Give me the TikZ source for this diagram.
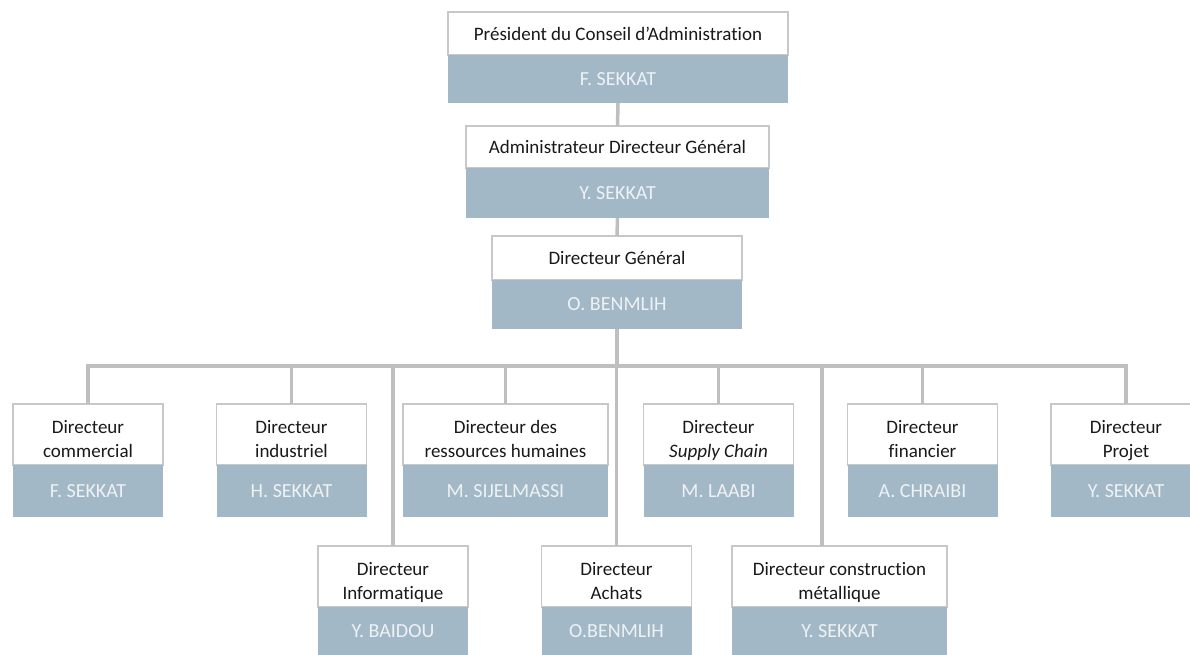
\documentclass[tikz,border=0pt]{standalone}
\usepackage{fontspec}
\setmainfont{Carlito}[Ligatures=NoCommon]

\definecolor{boxline}{HTML}{C8C8C8}
\definecolor{namefill}{HTML}{A3B8C6}
\definecolor{linkgray}{HTML}{BFBFBF}
\definecolor{nametext}{HTML}{EEF2F5}

% two-line role text, set a little low in its box
\newcommand\rolelines[2]{\raisebox{-6pt}[\height][\depth]{\begin{tabular}{@{}c@{}}#1\\#2\end{tabular}}}

\begin{document}
\begin{tikzpicture}[x=1pt,y=-1pt,font=\fontsize{19}{24}\selectfont,
	rolebox/.style={rectangle,draw=boxline,line width=1.5pt,fill=white,inner sep=0pt,outer sep=0pt,text=black!90},
	personbox/.style={rectangle,fill=namefill,anchor=north,inner sep=0pt,outer sep=0pt,text=nametext,font=\fontsize{20}{24}\selectfont},
	link/.style={draw=linkgray,line width=3.5pt}]
	\useasboundingbox (0,0) rectangle (1190,654);
	\clip (0,0) rectangle (1190,654);

	% direction
	\node (pres) [rolebox,minimum width=340pt,minimum height=43pt] at (618,33.5) {Président du Conseil d’Administration};
	\node (presn) [personbox,minimum width=340pt,minimum height=48pt] at (pres.south) {F. SEKKAT};

	\node (adg) [rolebox,minimum width=303pt,minimum height=42pt] at (617.5,147) {Administrateur Directeur Général};
	\node (adgn) [personbox,minimum width=303pt,minimum height=50pt] at (adg.south) {Y. SEKKAT};

	\node (dg) [rolebox,minimum width=250pt,minimum height=44pt] at (617,258) {Directeur Général};
	\node (dgn) [personbox,minimum width=250pt,minimum height=49pt] at (dg.south) {O. BENMLIH};

	% first row
	\node (comm) [rolebox,minimum width=150pt,minimum height=61pt] at (88,434.5) {\rolelines{Directeur}{commercial}};
	\node (commn) [personbox,minimum width=150pt,minimum height=52pt] at (comm.south) {F. SEKKAT};

	\node (ind) [rolebox,minimum width=150pt,minimum height=61pt] at (291.5,434.5) {\rolelines{Directeur}{industriel}};
	\node (indn) [personbox,minimum width=150pt,minimum height=52pt] at (ind.south) {H. SEKKAT};

	\node (rh) [rolebox,minimum width=205pt,minimum height=61pt] at (505.5,434.5) {\rolelines{Directeur des}{ressources humaines}};
	\node (rhn) [personbox,minimum width=205pt,minimum height=52pt] at (rh.south) {M. SIJELMASSI};

	\node (supply) [rolebox,minimum width=150pt,minimum height=61pt] at (718.5,434.5) {\rolelines{Directeur}{\textit{Supply Chain}}};
	\node (supplyn) [personbox,minimum width=150pt,minimum height=52pt] at (supply.south) {M. LAABI};

	\node (fin) [rolebox,minimum width=150pt,minimum height=61pt] at (922.5,434.5) {\rolelines{Directeur}{financier}};
	\node (finn) [personbox,minimum width=150pt,minimum height=52pt] at (fin.south) {A. CHRAIBI};

	\node (proj) [rolebox,minimum width=150pt,minimum height=61pt] at (1126,434.5) {\rolelines{Directeur}{Projet}};
	\node (projn) [personbox,minimum width=150pt,minimum height=52pt] at (proj.south) {Y. SEKKAT};

	% second row
	\node (info) [rolebox,minimum width=150pt,minimum height=61pt] at (393,576.5) {\rolelines{Directeur}{Informatique}};
	\node (infon) [personbox,minimum width=150pt,minimum height=48pt] at (info.south) {Y. BAIDOU};

	\node (achat) [rolebox,minimum width=150pt,minimum height=61pt] at (616.5,576.5) {\rolelines{Directeur}{Achats}};
	\node (achatn) [personbox,minimum width=150pt,minimum height=48pt] at (achat.south) {O.BENMLIH};

	\node (constr) [rolebox,minimum width=215pt,minimum height=61pt] at (839.5,576.5) {\rolelines{Directeur construction}{métallique}};
	\node (constrn) [personbox,minimum width=215pt,minimum height=48pt] at (constr.south) {Y. SEKKAT};

	% links
	\coordinate (bus) at (617,366);
	\coordinate (cmtop) at ([xshift=-17.5pt]constr.north);
	\draw[link] (presn.south) -- (adg.north);
	\draw[link] (adgn.south) -- (dg.north);
	\draw[link] (dgn.south) -- (bus);
	\draw[link] (comm.north) -- (comm.north |- bus) -- (proj.north |- bus) -- (proj.north);
	\foreach \n in {ind,rh,supply,fin,info,achat}
		\draw[link] (\n.north) -- (\n.north |- bus);
	\draw[link] (cmtop) -- (cmtop |- bus);
\end{tikzpicture}
\end{document}
